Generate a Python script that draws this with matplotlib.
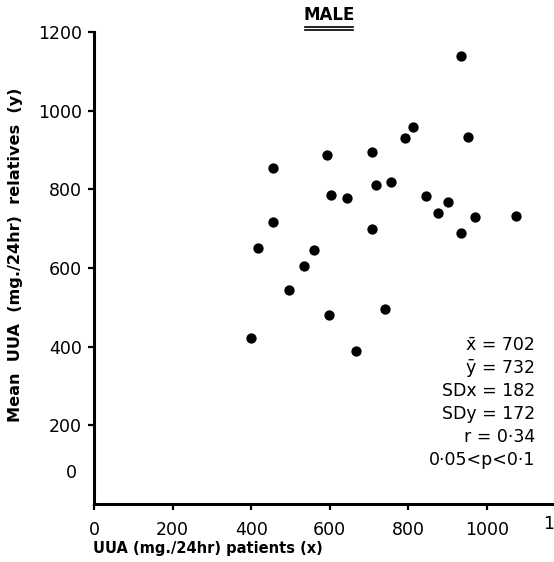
import matplotlib
matplotlib.use("Agg")
import matplotlib.pyplot as plt
from matplotlib.lines import Line2D

patients_x = [400, 417, 455, 456, 496, 534, 560, 594, 598, 603, 645, 668, 707, 707,
              719, 741, 755, 792, 811, 845, 875, 902, 934, 934, 952, 970, 1073]
relatives_y = [422, 651, 716, 853, 544, 605, 645, 888, 480, 786, 779, 390, 895, 700,
               810, 495, 819, 931, 958, 783, 739, 768, 1139, 690, 933, 729, 731]
x_ticks = [0, 200, 400, 600, 800, 1000]
y_ticks = [200, 400, 600, 800, 1000, 1200]
stats_lines = ["x̄ = 702", "ȳ = 732", "SDx = 182", "SDy = 172", "r = 0·34", "0·05<p<0·1"]

plt.rcParams['font.family'] = ['DejaVu Sans']
W, H = 554, 562
fig = plt.figure(figsize=(W / 100, H / 100), dpi=100)
ax = fig.add_axes([94 / W, 1 - 504 / H, (W - 94) / W, (504 - 32) / H])
ax.set_xlim(0, 1171)
ax.set_ylim(0, 1200)

ax.scatter(patients_x, relatives_y, s=55, color='black', zorder=3, linewidths=0)

for s in ['top', 'right']:
    ax.spines[s].set_visible(False)
for s in ['left', 'bottom']:
    ax.spines[s].set_linewidth(2.2)

ax.set_xticks(x_ticks)
ax.set_xticklabels([str(v) for v in x_ticks])
ax.set_yticks(y_ticks)
ax.set_yticklabels([str(v) for v in y_ticks])
ax.tick_params(axis='both', direction='out', length=4.5, width=1.6, labelsize=12.5, pad=4)
ax.tick_params(axis='x', pad=8)

# extra labels
ax.text(-0.05, 0.065, "0", transform=ax.transAxes, ha='center', va='center', fontsize=12.5)
ax.text(1200, -52, "1200", ha='center', va='center', fontsize=12.5, clip_on=False)

fig.text(93 / W, 1 - 548 / H, "UUA (mg./24hr) patients (x)", ha='left', va='center',
         fontsize=10.5, fontweight='bold')
fig.text(16 / W, 1 - 255 / H, "Mean  UUA  (mg./24hr)  relatives  (y)", rotation=90,
         ha='center', va='center', fontsize=11.6, fontweight='bold')

# title with double underline
fig.text(329 / W, 1 - 15 / H, "MALE", ha='center', va='center', fontsize=12, fontweight='bold')
for yy in (26.5, 29.5):
    fig.add_artist(Line2D([305 / W, 353 / W], [1 - yy / H, 1 - yy / H], color='black', lw=1.2))

for i, line in enumerate(stats_lines):
    fig.text(535 / W, 1 - (345 + 23 * i) / H, line, ha='right', va='center', fontsize=12.5)

fig.savefig("out.png", dpi=100)
